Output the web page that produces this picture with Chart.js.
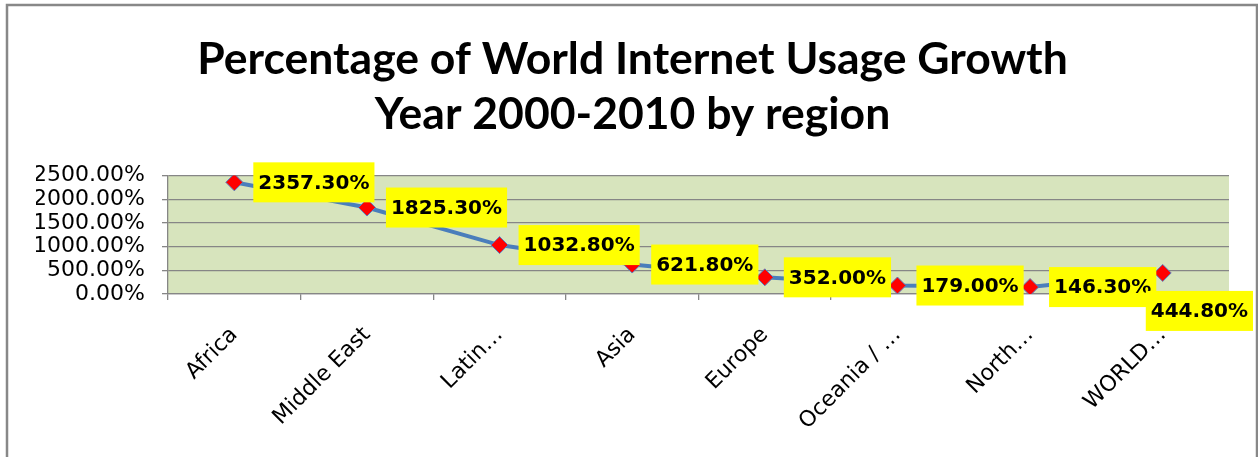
<!DOCTYPE html>
<html>
<head>
<meta charset="utf-8">
<script src="https://cdn.jsdelivr.net/npm/chart.js@4/dist/chart.umd.min.js"></script>
<style>
  html, body { margin: 0; padding: 0; background: #ffffff; }
  #wrap { width: 1258px; height: 457px; position: relative; }
</style>
</head>
<body>
<div id="wrap"><canvas id="c"></canvas></div>
<script>
const titleLines = ['Percentage of World Internet Usage Growth', 'Year 2000-2010 by region'];
const categories = ['Africa', 'Middle East', 'Latin…', 'Asia', 'Europe', 'Oceania / …', 'North…', 'WORLD…'];
const growthPct = [2357.3, 1825.3, 1032.8, 621.8, 352.0, 179.0, 146.3, 444.8];
const yTicks = [0, 500, 1000, 1500, 2000, 2500];

const fmtPct = v => v.toFixed(2) + '%';

const plotBg = {
  id: 'plotBg',
  beforeDraw(chart) {
    const { ctx, chartArea: a } = chart;
    ctx.save();
    ctx.fillStyle = '#d7e4bd';
    ctx.fillRect(a.left, a.top, a.right - a.left, a.bottom - a.top);
    ctx.restore();
  }
};

const dataLabels = {
  id: 'dataLabels',
  afterDatasetsDraw(chart) {
    const { ctx } = chart;
    const meta = chart.getDatasetMeta(0);
    const ds = chart.data.datasets[0];
    ctx.save();
    ctx.font = 'bold 20px "DejaVu Sans"';
    ctx.textBaseline = 'middle';
    ctx.textAlign = 'left';
    meta.data.forEach((pt, i) => {
      const txt = fmtPct(ds.data[i]);
      const w = ctx.measureText(txt).width + 10;
      const h = 40;
      let left = pt.x + 19;
      let top = pt.y - h / 2;
      if (left + w > chart.width - 4) {
        left = chart.width - 5 - w;
        top = pt.y + 18;
      }
      ctx.fillStyle = '#ffff00';
      ctx.fillRect(left, top, w, h);
      ctx.fillStyle = '#000000';
      ctx.fillText(txt, left + 5, top + h / 2 + 1);
    });
    ctx.restore();
  }
};

const outerBorder = {
  id: 'outerBorder',
  afterDraw(chart) {
    const { ctx } = chart;
    ctx.save();
    ctx.strokeStyle = '#888888';
    ctx.lineWidth = 2.5;
    ctx.strokeRect(7, 5, 1250, 470);
    ctx.restore();
  }
};

new Chart(document.getElementById('c'), {
  type: 'line',
  data: {
    labels: categories,
    datasets: [{
      data: growthPct,
      borderColor: '#4a7ebb',
      borderWidth: 4,
      tension: 0,
      pointStyle: 'rectRot',
      pointRadius: 8.5,
      pointHoverRadius: 8.5,
      pointBackgroundColor: '#ff0000',
      pointBorderColor: '#5a7fbf',
      pointBorderWidth: 1
    }]
  },
  options: {
    responsive: true,
    maintainAspectRatio: false,
    animation: false,
    layout: { padding: { left: 36, right: 29, top: 0, bottom: 0 } },
    plugins: {
      legend: { display: false },
      tooltip: { enabled: false },
      title: {
        display: true,
        text: titleLines,
        color: '#000000',
        font: { family: 'Lato', weight: 'bold', size: 44.5, lineHeight: 1.22 },
        padding: { top: 33, bottom: 34 }
      }
    },
    scales: {
      x: {
        offset: true,
        grid: { offset: true, drawOnChartArea: false, drawTicks: true, tickLength: 6, color: '#868686', lineWidth: 1.3 },
        border: { display: true, color: '#868686', width: 1.3 },
        ticks: {
          autoSkip: false, minRotation: 45, maxRotation: 45,
          color: '#000000', padding: 22,
          font: { family: 'DejaVu Sans', size: 22 }
        },
        afterFit(scale) { scale.height = 163; }
      },
      y: {
        min: 0, max: 2500,
        afterBuildTicks(scale) { scale.ticks = yTicks.map(v => ({ value: v })); },
        grid: { color: '#868686', lineWidth: 1.3, drawTicks: true, tickLength: 6 },
        border: { display: true, color: '#868686', width: 1.3 },
        ticks: {
          autoSkip: false, color: '#000000', padding: 17,
          font: { family: 'DejaVu Sans', size: 22, lineHeight: 1 },
          callback: v => fmtPct(v)
        },
        afterFit(scale) { scale.width = 132; }
      }
    }
  },
  plugins: [plotBg, dataLabels, outerBorder]
});
</script>
</body>
</html>
